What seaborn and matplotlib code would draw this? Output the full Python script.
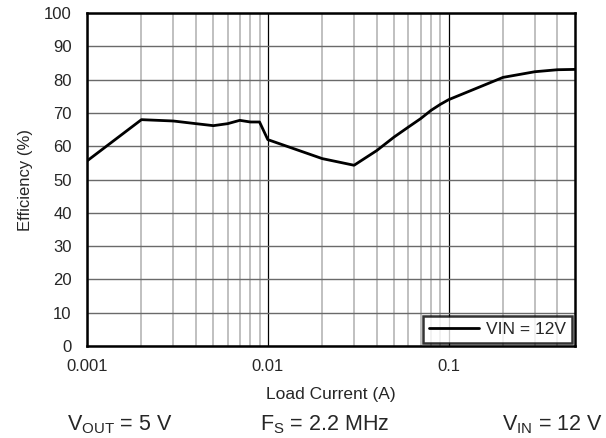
import numpy as np
import pandas as pd
import seaborn as sns
import matplotlib.pyplot as plt
from matplotlib.ticker import FixedLocator, NullFormatter

# efficiency curve
load_current = [0.001, 0.002, 0.003, 0.004, 0.005, 0.006, 0.007, 0.008, 0.009,
                0.01, 0.02, 0.03, 0.04, 0.05, 0.06, 0.07, 0.08, 0.09,
                0.1, 0.2, 0.3, 0.4, 0.5]
efficiency = [55.6, 68.0, 67.6, 66.8, 66.2, 66.8, 67.8, 67.3, 67.3,
              62.0, 56.3, 54.3, 58.7, 62.8, 65.8, 68.3, 70.8, 72.6,
              74.0, 80.7, 82.4, 83.0, 83.1]
series_name = "VIN = 12V"
y_ticks = list(range(0, 101, 10))
x_major = [0.001, 0.01, 0.1]
x_labels = ["0.001", "0.01", "0.1"]

df = pd.DataFrame({"I": load_current, "eff": efficiency, "s": series_name})

sns.set_style("white")
plt.rcParams['font.family'] = ['Liberation Sans', 'DejaVu Sans']
plt.rcParams['mathtext.fontset'] = 'custom'
plt.rcParams['mathtext.rm'] = 'Liberation Sans'
plt.rcParams['mathtext.it'] = 'Liberation Sans'

fig = plt.figure(figsize=(6.06, 4.38), dpi=100)
ax = fig.add_axes([0.1436, 0.210, 0.8052, 0.760])

sns.lineplot(data=df, x="I", y="eff", hue="s", palette=["black"],
             linewidth=2, ax=ax)
ax.set_xscale("log")
ax.set_xlim(0.001, 0.5)
ax.set_ylim(0, 100)

minor = [m * d for d in [0.001, 0.01, 0.1] for m in range(2, 10) if m * d < 0.5]
ax.xaxis.set_major_locator(FixedLocator(x_major))
ax.set_xticklabels(x_labels)
ax.xaxis.set_minor_locator(FixedLocator(minor))
ax.xaxis.set_minor_formatter(NullFormatter())
ax.set_yticks(y_ticks)

ax.grid(True, which="minor", axis="x", color="#c0c0c0", linewidth=1.4)
ax.grid(True, which="major", axis="x", color="black", linewidth=0.9)
ax.grid(True, which="major", axis="y", color="#6a6a6a", linewidth=1.0)
ax.set_axisbelow(True)
ax.tick_params(axis="both", which="both", length=0, labelsize=12)
ax.tick_params(axis="y", pad=11)
ax.tick_params(axis="x", pad=9)

for sp in ax.spines.values():
    sp.set_color("black")
    sp.set_linewidth(1.8)

ax.set_xlabel("Load Current (A)", fontsize=12.5, labelpad=10)
ax.set_ylabel("Efficiency (%)", fontsize=12, labelpad=8)

leg = ax.legend(loc="lower right", fontsize=12.5, frameon=True, fancybox=False,
                borderaxespad=0.15, handlelength=2.9, borderpad=0.35,
                handletextpad=0.4)
leg.get_frame().set_edgecolor("black")
leg.get_frame().set_linewidth(1.8)
leg.set_title(None)

fig.text(0.110, 0.018, r"V$_{\mathrm{OUT}}$ = 5 V", fontsize=15.5, va="baseline")
fig.text(0.429, 0.018, r"F$_{\mathrm{S}}$ = 2.2 MHz", fontsize=15.5, va="baseline")
fig.text(0.994, 0.018, r"V$_{\mathrm{IN}}$ = 12 V", fontsize=15.5, ha="right",
         va="baseline")

fig.savefig("out.png", dpi=100)
